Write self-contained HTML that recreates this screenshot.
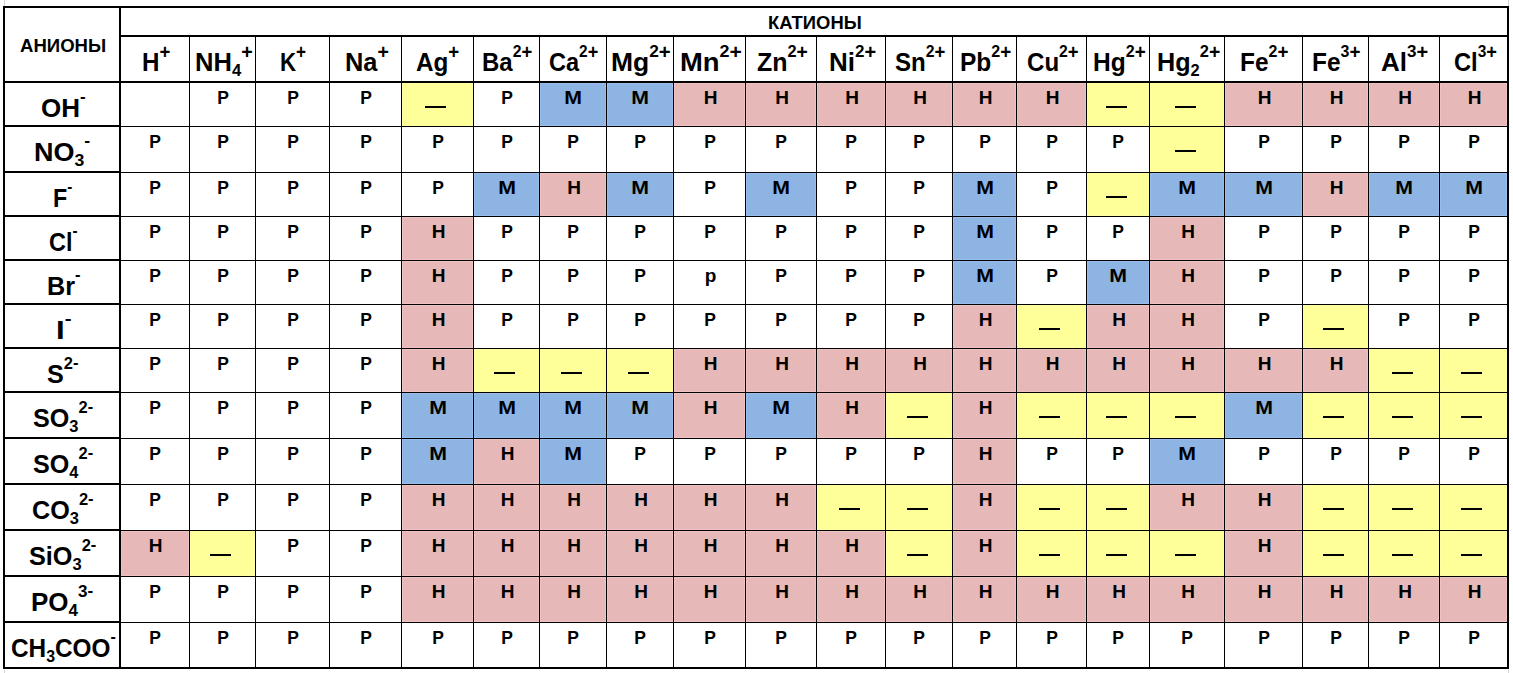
<!DOCTYPE html><html><head><meta charset="utf-8"><style>
html,body{margin:0;padding:0;background:#fff;}
body{width:1513px;height:673px;position:relative;overflow:hidden;font-family:"Liberation Sans",sans-serif;font-weight:bold;color:#000;}
.f,.l,.t,.d{position:absolute;}
.l{background:#000;}
.t{white-space:nowrap;line-height:1;transform-origin:0 0;}
.c{font-size:19px;}
.h{font-size:26px;}
.d{height:2px;width:21px;background:#000;}
sup,sub{position:relative;vertical-align:baseline;line-height:0;font-size:17px;}
sup{top:-14px;}
sub{top:5px;}
.p{font-size:20px;position:relative;top:2px;}
.m{position:relative;top:-1px;}

</style></head><body>
<div class="f" style="left:401px;top:82px;width:72px;height:44px;background:#FFFF99;"></div>
<div class="f" style="left:402px;top:83px;width:69px;height:41px;border:1px solid #FFFFA4;"></div>
<div class="f" style="left:539px;top:82px;width:67px;height:44px;background:#8DB4E2;"></div>
<div class="f" style="left:540px;top:83px;width:64px;height:41px;border:1px solid #97BEEC;"></div>
<div class="f" style="left:606px;top:82px;width:67px;height:44px;background:#8DB4E2;"></div>
<div class="f" style="left:607px;top:83px;width:64px;height:41px;border:1px solid #97BEEC;"></div>
<div class="f" style="left:673px;top:82px;width:72px;height:44px;background:#E6B8B7;"></div>
<div class="f" style="left:674px;top:83px;width:69px;height:41px;border:1px solid #F0C2C1;"></div>
<div class="f" style="left:745px;top:82px;width:71px;height:44px;background:#E6B8B7;"></div>
<div class="f" style="left:746px;top:83px;width:68px;height:41px;border:1px solid #F0C2C1;"></div>
<div class="f" style="left:816px;top:82px;width:69px;height:44px;background:#E6B8B7;"></div>
<div class="f" style="left:817px;top:83px;width:66px;height:41px;border:1px solid #F0C2C1;"></div>
<div class="f" style="left:885px;top:82px;width:67px;height:44px;background:#E6B8B7;"></div>
<div class="f" style="left:886px;top:83px;width:64px;height:41px;border:1px solid #F0C2C1;"></div>
<div class="f" style="left:952px;top:82px;width:64px;height:44px;background:#E6B8B7;"></div>
<div class="f" style="left:953px;top:83px;width:61px;height:41px;border:1px solid #F0C2C1;"></div>
<div class="f" style="left:1016px;top:82px;width:70px;height:44px;background:#E6B8B7;"></div>
<div class="f" style="left:1017px;top:83px;width:67px;height:41px;border:1px solid #F0C2C1;"></div>
<div class="f" style="left:1086px;top:82px;width:63px;height:44px;background:#FFFF99;"></div>
<div class="f" style="left:1087px;top:83px;width:60px;height:41px;border:1px solid #FFFFA4;"></div>
<div class="f" style="left:1149px;top:82px;width:75px;height:44px;background:#FFFF99;"></div>
<div class="f" style="left:1150px;top:83px;width:72px;height:41px;border:1px solid #FFFFA4;"></div>
<div class="f" style="left:1224px;top:82px;width:78px;height:44px;background:#E6B8B7;"></div>
<div class="f" style="left:1225px;top:83px;width:75px;height:41px;border:1px solid #F0C2C1;"></div>
<div class="f" style="left:1302px;top:82px;width:66px;height:44px;background:#E6B8B7;"></div>
<div class="f" style="left:1303px;top:83px;width:63px;height:41px;border:1px solid #F0C2C1;"></div>
<div class="f" style="left:1368px;top:82px;width:71px;height:44px;background:#E6B8B7;"></div>
<div class="f" style="left:1369px;top:83px;width:68px;height:41px;border:1px solid #F0C2C1;"></div>
<div class="f" style="left:1439px;top:82px;width:68px;height:44px;background:#E6B8B7;"></div>
<div class="f" style="left:1440px;top:83px;width:65px;height:41px;border:1px solid #F0C2C1;"></div>
<div class="f" style="left:1149px;top:126px;width:75px;height:46px;background:#FFFF99;"></div>
<div class="f" style="left:1150px;top:127px;width:72px;height:43px;border:1px solid #FFFFA4;"></div>
<div class="f" style="left:473px;top:172px;width:66px;height:44px;background:#8DB4E2;"></div>
<div class="f" style="left:474px;top:173px;width:63px;height:41px;border:1px solid #97BEEC;"></div>
<div class="f" style="left:539px;top:172px;width:67px;height:44px;background:#E6B8B7;"></div>
<div class="f" style="left:540px;top:173px;width:64px;height:41px;border:1px solid #F0C2C1;"></div>
<div class="f" style="left:606px;top:172px;width:67px;height:44px;background:#8DB4E2;"></div>
<div class="f" style="left:607px;top:173px;width:64px;height:41px;border:1px solid #97BEEC;"></div>
<div class="f" style="left:745px;top:172px;width:71px;height:44px;background:#8DB4E2;"></div>
<div class="f" style="left:746px;top:173px;width:68px;height:41px;border:1px solid #97BEEC;"></div>
<div class="f" style="left:952px;top:172px;width:64px;height:44px;background:#8DB4E2;"></div>
<div class="f" style="left:953px;top:173px;width:61px;height:41px;border:1px solid #97BEEC;"></div>
<div class="f" style="left:1086px;top:172px;width:63px;height:44px;background:#FFFF99;"></div>
<div class="f" style="left:1087px;top:173px;width:60px;height:41px;border:1px solid #FFFFA4;"></div>
<div class="f" style="left:1149px;top:172px;width:75px;height:44px;background:#8DB4E2;"></div>
<div class="f" style="left:1150px;top:173px;width:72px;height:41px;border:1px solid #97BEEC;"></div>
<div class="f" style="left:1224px;top:172px;width:78px;height:44px;background:#8DB4E2;"></div>
<div class="f" style="left:1225px;top:173px;width:75px;height:41px;border:1px solid #97BEEC;"></div>
<div class="f" style="left:1302px;top:172px;width:66px;height:44px;background:#E6B8B7;"></div>
<div class="f" style="left:1303px;top:173px;width:63px;height:41px;border:1px solid #F0C2C1;"></div>
<div class="f" style="left:1368px;top:172px;width:71px;height:44px;background:#8DB4E2;"></div>
<div class="f" style="left:1369px;top:173px;width:68px;height:41px;border:1px solid #97BEEC;"></div>
<div class="f" style="left:1439px;top:172px;width:68px;height:44px;background:#8DB4E2;"></div>
<div class="f" style="left:1440px;top:173px;width:65px;height:41px;border:1px solid #97BEEC;"></div>
<div class="f" style="left:401px;top:216px;width:72px;height:44px;background:#E6B8B7;"></div>
<div class="f" style="left:402px;top:217px;width:69px;height:41px;border:1px solid #F0C2C1;"></div>
<div class="f" style="left:952px;top:216px;width:64px;height:44px;background:#8DB4E2;"></div>
<div class="f" style="left:953px;top:217px;width:61px;height:41px;border:1px solid #97BEEC;"></div>
<div class="f" style="left:1149px;top:216px;width:75px;height:44px;background:#E6B8B7;"></div>
<div class="f" style="left:1150px;top:217px;width:72px;height:41px;border:1px solid #F0C2C1;"></div>
<div class="f" style="left:401px;top:260px;width:72px;height:44px;background:#E6B8B7;"></div>
<div class="f" style="left:402px;top:261px;width:69px;height:41px;border:1px solid #F0C2C1;"></div>
<div class="f" style="left:952px;top:260px;width:64px;height:44px;background:#8DB4E2;"></div>
<div class="f" style="left:953px;top:261px;width:61px;height:41px;border:1px solid #97BEEC;"></div>
<div class="f" style="left:1086px;top:260px;width:63px;height:44px;background:#8DB4E2;"></div>
<div class="f" style="left:1087px;top:261px;width:60px;height:41px;border:1px solid #97BEEC;"></div>
<div class="f" style="left:1149px;top:260px;width:75px;height:44px;background:#E6B8B7;"></div>
<div class="f" style="left:1150px;top:261px;width:72px;height:41px;border:1px solid #F0C2C1;"></div>
<div class="f" style="left:401px;top:304px;width:72px;height:44px;background:#E6B8B7;"></div>
<div class="f" style="left:402px;top:305px;width:69px;height:41px;border:1px solid #F0C2C1;"></div>
<div class="f" style="left:952px;top:304px;width:64px;height:44px;background:#E6B8B7;"></div>
<div class="f" style="left:953px;top:305px;width:61px;height:41px;border:1px solid #F0C2C1;"></div>
<div class="f" style="left:1016px;top:304px;width:70px;height:44px;background:#FFFF99;"></div>
<div class="f" style="left:1017px;top:305px;width:67px;height:41px;border:1px solid #FFFFA4;"></div>
<div class="f" style="left:1086px;top:304px;width:63px;height:44px;background:#E6B8B7;"></div>
<div class="f" style="left:1087px;top:305px;width:60px;height:41px;border:1px solid #F0C2C1;"></div>
<div class="f" style="left:1149px;top:304px;width:75px;height:44px;background:#E6B8B7;"></div>
<div class="f" style="left:1150px;top:305px;width:72px;height:41px;border:1px solid #F0C2C1;"></div>
<div class="f" style="left:1302px;top:304px;width:66px;height:44px;background:#FFFF99;"></div>
<div class="f" style="left:1303px;top:305px;width:63px;height:41px;border:1px solid #FFFFA4;"></div>
<div class="f" style="left:401px;top:348px;width:72px;height:44px;background:#E6B8B7;"></div>
<div class="f" style="left:402px;top:349px;width:69px;height:41px;border:1px solid #F0C2C1;"></div>
<div class="f" style="left:473px;top:348px;width:66px;height:44px;background:#FFFF99;"></div>
<div class="f" style="left:474px;top:349px;width:63px;height:41px;border:1px solid #FFFFA4;"></div>
<div class="f" style="left:539px;top:348px;width:67px;height:44px;background:#FFFF99;"></div>
<div class="f" style="left:540px;top:349px;width:64px;height:41px;border:1px solid #FFFFA4;"></div>
<div class="f" style="left:606px;top:348px;width:67px;height:44px;background:#FFFF99;"></div>
<div class="f" style="left:607px;top:349px;width:64px;height:41px;border:1px solid #FFFFA4;"></div>
<div class="f" style="left:673px;top:348px;width:72px;height:44px;background:#E6B8B7;"></div>
<div class="f" style="left:674px;top:349px;width:69px;height:41px;border:1px solid #F0C2C1;"></div>
<div class="f" style="left:745px;top:348px;width:71px;height:44px;background:#E6B8B7;"></div>
<div class="f" style="left:746px;top:349px;width:68px;height:41px;border:1px solid #F0C2C1;"></div>
<div class="f" style="left:816px;top:348px;width:69px;height:44px;background:#E6B8B7;"></div>
<div class="f" style="left:817px;top:349px;width:66px;height:41px;border:1px solid #F0C2C1;"></div>
<div class="f" style="left:885px;top:348px;width:67px;height:44px;background:#E6B8B7;"></div>
<div class="f" style="left:886px;top:349px;width:64px;height:41px;border:1px solid #F0C2C1;"></div>
<div class="f" style="left:952px;top:348px;width:64px;height:44px;background:#E6B8B7;"></div>
<div class="f" style="left:953px;top:349px;width:61px;height:41px;border:1px solid #F0C2C1;"></div>
<div class="f" style="left:1016px;top:348px;width:70px;height:44px;background:#E6B8B7;"></div>
<div class="f" style="left:1017px;top:349px;width:67px;height:41px;border:1px solid #F0C2C1;"></div>
<div class="f" style="left:1086px;top:348px;width:63px;height:44px;background:#E6B8B7;"></div>
<div class="f" style="left:1087px;top:349px;width:60px;height:41px;border:1px solid #F0C2C1;"></div>
<div class="f" style="left:1149px;top:348px;width:75px;height:44px;background:#E6B8B7;"></div>
<div class="f" style="left:1150px;top:349px;width:72px;height:41px;border:1px solid #F0C2C1;"></div>
<div class="f" style="left:1224px;top:348px;width:78px;height:44px;background:#E6B8B7;"></div>
<div class="f" style="left:1225px;top:349px;width:75px;height:41px;border:1px solid #F0C2C1;"></div>
<div class="f" style="left:1302px;top:348px;width:66px;height:44px;background:#E6B8B7;"></div>
<div class="f" style="left:1303px;top:349px;width:63px;height:41px;border:1px solid #F0C2C1;"></div>
<div class="f" style="left:1368px;top:348px;width:71px;height:44px;background:#FFFF99;"></div>
<div class="f" style="left:1369px;top:349px;width:68px;height:41px;border:1px solid #FFFFA4;"></div>
<div class="f" style="left:1439px;top:348px;width:68px;height:44px;background:#FFFF99;"></div>
<div class="f" style="left:1440px;top:349px;width:65px;height:41px;border:1px solid #FFFFA4;"></div>
<div class="f" style="left:401px;top:392px;width:72px;height:46px;background:#8DB4E2;"></div>
<div class="f" style="left:402px;top:393px;width:69px;height:43px;border:1px solid #97BEEC;"></div>
<div class="f" style="left:473px;top:392px;width:66px;height:46px;background:#8DB4E2;"></div>
<div class="f" style="left:474px;top:393px;width:63px;height:43px;border:1px solid #97BEEC;"></div>
<div class="f" style="left:539px;top:392px;width:67px;height:46px;background:#8DB4E2;"></div>
<div class="f" style="left:540px;top:393px;width:64px;height:43px;border:1px solid #97BEEC;"></div>
<div class="f" style="left:606px;top:392px;width:67px;height:46px;background:#8DB4E2;"></div>
<div class="f" style="left:607px;top:393px;width:64px;height:43px;border:1px solid #97BEEC;"></div>
<div class="f" style="left:673px;top:392px;width:72px;height:46px;background:#E6B8B7;"></div>
<div class="f" style="left:674px;top:393px;width:69px;height:43px;border:1px solid #F0C2C1;"></div>
<div class="f" style="left:745px;top:392px;width:71px;height:46px;background:#8DB4E2;"></div>
<div class="f" style="left:746px;top:393px;width:68px;height:43px;border:1px solid #97BEEC;"></div>
<div class="f" style="left:816px;top:392px;width:69px;height:46px;background:#E6B8B7;"></div>
<div class="f" style="left:817px;top:393px;width:66px;height:43px;border:1px solid #F0C2C1;"></div>
<div class="f" style="left:885px;top:392px;width:67px;height:46px;background:#FFFF99;"></div>
<div class="f" style="left:886px;top:393px;width:64px;height:43px;border:1px solid #FFFFA4;"></div>
<div class="f" style="left:952px;top:392px;width:64px;height:46px;background:#E6B8B7;"></div>
<div class="f" style="left:953px;top:393px;width:61px;height:43px;border:1px solid #F0C2C1;"></div>
<div class="f" style="left:1016px;top:392px;width:70px;height:46px;background:#FFFF99;"></div>
<div class="f" style="left:1017px;top:393px;width:67px;height:43px;border:1px solid #FFFFA4;"></div>
<div class="f" style="left:1086px;top:392px;width:63px;height:46px;background:#FFFF99;"></div>
<div class="f" style="left:1087px;top:393px;width:60px;height:43px;border:1px solid #FFFFA4;"></div>
<div class="f" style="left:1149px;top:392px;width:75px;height:46px;background:#FFFF99;"></div>
<div class="f" style="left:1150px;top:393px;width:72px;height:43px;border:1px solid #FFFFA4;"></div>
<div class="f" style="left:1224px;top:392px;width:78px;height:46px;background:#8DB4E2;"></div>
<div class="f" style="left:1225px;top:393px;width:75px;height:43px;border:1px solid #97BEEC;"></div>
<div class="f" style="left:1302px;top:392px;width:66px;height:46px;background:#FFFF99;"></div>
<div class="f" style="left:1303px;top:393px;width:63px;height:43px;border:1px solid #FFFFA4;"></div>
<div class="f" style="left:1368px;top:392px;width:71px;height:46px;background:#FFFF99;"></div>
<div class="f" style="left:1369px;top:393px;width:68px;height:43px;border:1px solid #FFFFA4;"></div>
<div class="f" style="left:1439px;top:392px;width:68px;height:46px;background:#FFFF99;"></div>
<div class="f" style="left:1440px;top:393px;width:65px;height:43px;border:1px solid #FFFFA4;"></div>
<div class="f" style="left:401px;top:438px;width:72px;height:46px;background:#8DB4E2;"></div>
<div class="f" style="left:402px;top:439px;width:69px;height:43px;border:1px solid #97BEEC;"></div>
<div class="f" style="left:473px;top:438px;width:66px;height:46px;background:#E6B8B7;"></div>
<div class="f" style="left:474px;top:439px;width:63px;height:43px;border:1px solid #F0C2C1;"></div>
<div class="f" style="left:539px;top:438px;width:67px;height:46px;background:#8DB4E2;"></div>
<div class="f" style="left:540px;top:439px;width:64px;height:43px;border:1px solid #97BEEC;"></div>
<div class="f" style="left:952px;top:438px;width:64px;height:46px;background:#E6B8B7;"></div>
<div class="f" style="left:953px;top:439px;width:61px;height:43px;border:1px solid #F0C2C1;"></div>
<div class="f" style="left:1149px;top:438px;width:75px;height:46px;background:#8DB4E2;"></div>
<div class="f" style="left:1150px;top:439px;width:72px;height:43px;border:1px solid #97BEEC;"></div>
<div class="f" style="left:401px;top:484px;width:72px;height:46px;background:#E6B8B7;"></div>
<div class="f" style="left:402px;top:485px;width:69px;height:43px;border:1px solid #F0C2C1;"></div>
<div class="f" style="left:473px;top:484px;width:66px;height:46px;background:#E6B8B7;"></div>
<div class="f" style="left:474px;top:485px;width:63px;height:43px;border:1px solid #F0C2C1;"></div>
<div class="f" style="left:539px;top:484px;width:67px;height:46px;background:#E6B8B7;"></div>
<div class="f" style="left:540px;top:485px;width:64px;height:43px;border:1px solid #F0C2C1;"></div>
<div class="f" style="left:606px;top:484px;width:67px;height:46px;background:#E6B8B7;"></div>
<div class="f" style="left:607px;top:485px;width:64px;height:43px;border:1px solid #F0C2C1;"></div>
<div class="f" style="left:673px;top:484px;width:72px;height:46px;background:#E6B8B7;"></div>
<div class="f" style="left:674px;top:485px;width:69px;height:43px;border:1px solid #F0C2C1;"></div>
<div class="f" style="left:745px;top:484px;width:71px;height:46px;background:#E6B8B7;"></div>
<div class="f" style="left:746px;top:485px;width:68px;height:43px;border:1px solid #F0C2C1;"></div>
<div class="f" style="left:816px;top:484px;width:69px;height:46px;background:#FFFF99;"></div>
<div class="f" style="left:817px;top:485px;width:66px;height:43px;border:1px solid #FFFFA4;"></div>
<div class="f" style="left:885px;top:484px;width:67px;height:46px;background:#FFFF99;"></div>
<div class="f" style="left:886px;top:485px;width:64px;height:43px;border:1px solid #FFFFA4;"></div>
<div class="f" style="left:952px;top:484px;width:64px;height:46px;background:#E6B8B7;"></div>
<div class="f" style="left:953px;top:485px;width:61px;height:43px;border:1px solid #F0C2C1;"></div>
<div class="f" style="left:1016px;top:484px;width:70px;height:46px;background:#FFFF99;"></div>
<div class="f" style="left:1017px;top:485px;width:67px;height:43px;border:1px solid #FFFFA4;"></div>
<div class="f" style="left:1086px;top:484px;width:63px;height:46px;background:#FFFF99;"></div>
<div class="f" style="left:1087px;top:485px;width:60px;height:43px;border:1px solid #FFFFA4;"></div>
<div class="f" style="left:1149px;top:484px;width:75px;height:46px;background:#E6B8B7;"></div>
<div class="f" style="left:1150px;top:485px;width:72px;height:43px;border:1px solid #F0C2C1;"></div>
<div class="f" style="left:1224px;top:484px;width:78px;height:46px;background:#E6B8B7;"></div>
<div class="f" style="left:1225px;top:485px;width:75px;height:43px;border:1px solid #F0C2C1;"></div>
<div class="f" style="left:1302px;top:484px;width:66px;height:46px;background:#FFFF99;"></div>
<div class="f" style="left:1303px;top:485px;width:63px;height:43px;border:1px solid #FFFFA4;"></div>
<div class="f" style="left:1368px;top:484px;width:71px;height:46px;background:#FFFF99;"></div>
<div class="f" style="left:1369px;top:485px;width:68px;height:43px;border:1px solid #FFFFA4;"></div>
<div class="f" style="left:1439px;top:484px;width:68px;height:46px;background:#FFFF99;"></div>
<div class="f" style="left:1440px;top:485px;width:65px;height:43px;border:1px solid #FFFFA4;"></div>
<div class="f" style="left:119px;top:530px;width:70px;height:46px;background:#E6B8B7;"></div>
<div class="f" style="left:121px;top:531px;width:66px;height:43px;border:1px solid #F0C2C1;"></div>
<div class="f" style="left:189px;top:530px;width:66px;height:46px;background:#FFFF99;"></div>
<div class="f" style="left:190px;top:531px;width:63px;height:43px;border:1px solid #FFFFA4;"></div>
<div class="f" style="left:401px;top:530px;width:72px;height:46px;background:#E6B8B7;"></div>
<div class="f" style="left:402px;top:531px;width:69px;height:43px;border:1px solid #F0C2C1;"></div>
<div class="f" style="left:473px;top:530px;width:66px;height:46px;background:#E6B8B7;"></div>
<div class="f" style="left:474px;top:531px;width:63px;height:43px;border:1px solid #F0C2C1;"></div>
<div class="f" style="left:539px;top:530px;width:67px;height:46px;background:#E6B8B7;"></div>
<div class="f" style="left:540px;top:531px;width:64px;height:43px;border:1px solid #F0C2C1;"></div>
<div class="f" style="left:606px;top:530px;width:67px;height:46px;background:#E6B8B7;"></div>
<div class="f" style="left:607px;top:531px;width:64px;height:43px;border:1px solid #F0C2C1;"></div>
<div class="f" style="left:673px;top:530px;width:72px;height:46px;background:#E6B8B7;"></div>
<div class="f" style="left:674px;top:531px;width:69px;height:43px;border:1px solid #F0C2C1;"></div>
<div class="f" style="left:745px;top:530px;width:71px;height:46px;background:#E6B8B7;"></div>
<div class="f" style="left:746px;top:531px;width:68px;height:43px;border:1px solid #F0C2C1;"></div>
<div class="f" style="left:816px;top:530px;width:69px;height:46px;background:#E6B8B7;"></div>
<div class="f" style="left:817px;top:531px;width:66px;height:43px;border:1px solid #F0C2C1;"></div>
<div class="f" style="left:885px;top:530px;width:67px;height:46px;background:#FFFF99;"></div>
<div class="f" style="left:886px;top:531px;width:64px;height:43px;border:1px solid #FFFFA4;"></div>
<div class="f" style="left:952px;top:530px;width:64px;height:46px;background:#E6B8B7;"></div>
<div class="f" style="left:953px;top:531px;width:61px;height:43px;border:1px solid #F0C2C1;"></div>
<div class="f" style="left:1016px;top:530px;width:70px;height:46px;background:#FFFF99;"></div>
<div class="f" style="left:1017px;top:531px;width:67px;height:43px;border:1px solid #FFFFA4;"></div>
<div class="f" style="left:1086px;top:530px;width:63px;height:46px;background:#FFFF99;"></div>
<div class="f" style="left:1087px;top:531px;width:60px;height:43px;border:1px solid #FFFFA4;"></div>
<div class="f" style="left:1149px;top:530px;width:75px;height:46px;background:#FFFF99;"></div>
<div class="f" style="left:1150px;top:531px;width:72px;height:43px;border:1px solid #FFFFA4;"></div>
<div class="f" style="left:1224px;top:530px;width:78px;height:46px;background:#E6B8B7;"></div>
<div class="f" style="left:1225px;top:531px;width:75px;height:43px;border:1px solid #F0C2C1;"></div>
<div class="f" style="left:1302px;top:530px;width:66px;height:46px;background:#FFFF99;"></div>
<div class="f" style="left:1303px;top:531px;width:63px;height:43px;border:1px solid #FFFFA4;"></div>
<div class="f" style="left:1368px;top:530px;width:71px;height:46px;background:#FFFF99;"></div>
<div class="f" style="left:1369px;top:531px;width:68px;height:43px;border:1px solid #FFFFA4;"></div>
<div class="f" style="left:1439px;top:530px;width:68px;height:46px;background:#FFFF99;"></div>
<div class="f" style="left:1440px;top:531px;width:65px;height:43px;border:1px solid #FFFFA4;"></div>
<div class="f" style="left:401px;top:576px;width:72px;height:46px;background:#E6B8B7;"></div>
<div class="f" style="left:402px;top:577px;width:69px;height:43px;border:1px solid #F0C2C1;"></div>
<div class="f" style="left:473px;top:576px;width:66px;height:46px;background:#E6B8B7;"></div>
<div class="f" style="left:474px;top:577px;width:63px;height:43px;border:1px solid #F0C2C1;"></div>
<div class="f" style="left:539px;top:576px;width:67px;height:46px;background:#E6B8B7;"></div>
<div class="f" style="left:540px;top:577px;width:64px;height:43px;border:1px solid #F0C2C1;"></div>
<div class="f" style="left:606px;top:576px;width:67px;height:46px;background:#E6B8B7;"></div>
<div class="f" style="left:607px;top:577px;width:64px;height:43px;border:1px solid #F0C2C1;"></div>
<div class="f" style="left:673px;top:576px;width:72px;height:46px;background:#E6B8B7;"></div>
<div class="f" style="left:674px;top:577px;width:69px;height:43px;border:1px solid #F0C2C1;"></div>
<div class="f" style="left:745px;top:576px;width:71px;height:46px;background:#E6B8B7;"></div>
<div class="f" style="left:746px;top:577px;width:68px;height:43px;border:1px solid #F0C2C1;"></div>
<div class="f" style="left:816px;top:576px;width:69px;height:46px;background:#E6B8B7;"></div>
<div class="f" style="left:817px;top:577px;width:66px;height:43px;border:1px solid #F0C2C1;"></div>
<div class="f" style="left:885px;top:576px;width:67px;height:46px;background:#E6B8B7;"></div>
<div class="f" style="left:886px;top:577px;width:64px;height:43px;border:1px solid #F0C2C1;"></div>
<div class="f" style="left:952px;top:576px;width:64px;height:46px;background:#E6B8B7;"></div>
<div class="f" style="left:953px;top:577px;width:61px;height:43px;border:1px solid #F0C2C1;"></div>
<div class="f" style="left:1016px;top:576px;width:70px;height:46px;background:#E6B8B7;"></div>
<div class="f" style="left:1017px;top:577px;width:67px;height:43px;border:1px solid #F0C2C1;"></div>
<div class="f" style="left:1086px;top:576px;width:63px;height:46px;background:#E6B8B7;"></div>
<div class="f" style="left:1087px;top:577px;width:60px;height:43px;border:1px solid #F0C2C1;"></div>
<div class="f" style="left:1149px;top:576px;width:75px;height:46px;background:#E6B8B7;"></div>
<div class="f" style="left:1150px;top:577px;width:72px;height:43px;border:1px solid #F0C2C1;"></div>
<div class="f" style="left:1224px;top:576px;width:78px;height:46px;background:#E6B8B7;"></div>
<div class="f" style="left:1225px;top:577px;width:75px;height:43px;border:1px solid #F0C2C1;"></div>
<div class="f" style="left:1302px;top:576px;width:66px;height:46px;background:#E6B8B7;"></div>
<div class="f" style="left:1303px;top:577px;width:63px;height:43px;border:1px solid #F0C2C1;"></div>
<div class="f" style="left:1368px;top:576px;width:71px;height:46px;background:#E6B8B7;"></div>
<div class="f" style="left:1369px;top:577px;width:68px;height:43px;border:1px solid #F0C2C1;"></div>
<div class="f" style="left:1439px;top:576px;width:68px;height:46px;background:#E6B8B7;"></div>
<div class="f" style="left:1440px;top:577px;width:65px;height:43px;border:1px solid #F0C2C1;"></div>
<div class="f" style="left:4px;top:0px;width:1px;height:6px;background:#d4d4d4;"></div>
<div class="f" style="left:1508px;top:0px;width:1px;height:6px;background:#d4d4d4;"></div>
<div class="f" style="left:4px;top:670px;width:1px;height:3px;background:#d4d4d4;"></div>
<div class="f" style="left:1508px;top:670px;width:1px;height:3px;background:#d4d4d4;"></div>
<div class="l" style="left:3px;top:6px;width:1506px;height:2px;"></div>
<div class="l" style="left:3px;top:667px;width:1506px;height:2px;"></div>
<div class="l" style="left:3px;top:6px;width:2px;height:663px;"></div>
<div class="l" style="left:1507px;top:6px;width:2px;height:663px;"></div>
<div class="l" style="left:119px;top:6px;width:2px;height:663px;"></div>
<div class="l" style="left:119px;top:35px;width:1390px;height:2px;"></div>
<div class="l" style="left:3px;top:81px;width:1506px;height:2px;"></div>
<div class="l" style="left:3px;top:125px;width:118px;height:2px;"></div>
<div class="l" style="left:119px;top:126px;width:1390px;height:1px;"></div>
<div class="l" style="left:3px;top:171px;width:118px;height:2px;"></div>
<div class="l" style="left:119px;top:172px;width:1390px;height:1px;"></div>
<div class="l" style="left:3px;top:215px;width:118px;height:2px;"></div>
<div class="l" style="left:119px;top:216px;width:1390px;height:1px;"></div>
<div class="l" style="left:3px;top:259px;width:118px;height:2px;"></div>
<div class="l" style="left:119px;top:260px;width:1390px;height:1px;"></div>
<div class="l" style="left:3px;top:303px;width:118px;height:2px;"></div>
<div class="l" style="left:119px;top:304px;width:1390px;height:1px;"></div>
<div class="l" style="left:3px;top:347px;width:118px;height:2px;"></div>
<div class="l" style="left:119px;top:348px;width:1390px;height:1px;"></div>
<div class="l" style="left:3px;top:391px;width:118px;height:2px;"></div>
<div class="l" style="left:119px;top:392px;width:1390px;height:1px;"></div>
<div class="l" style="left:3px;top:437px;width:118px;height:2px;"></div>
<div class="l" style="left:119px;top:438px;width:1390px;height:1px;"></div>
<div class="l" style="left:3px;top:483px;width:118px;height:2px;"></div>
<div class="l" style="left:119px;top:484px;width:1390px;height:1px;"></div>
<div class="l" style="left:3px;top:529px;width:118px;height:2px;"></div>
<div class="l" style="left:119px;top:530px;width:1390px;height:1px;"></div>
<div class="l" style="left:3px;top:575px;width:118px;height:2px;"></div>
<div class="l" style="left:119px;top:576px;width:1390px;height:1px;"></div>
<div class="l" style="left:3px;top:621px;width:118px;height:2px;"></div>
<div class="l" style="left:119px;top:622px;width:1390px;height:1px;"></div>
<div class="l" style="left:189px;top:35px;width:1px;height:633px;"></div>
<div class="l" style="left:255px;top:35px;width:1px;height:633px;"></div>
<div class="l" style="left:329px;top:35px;width:1px;height:633px;"></div>
<div class="l" style="left:401px;top:35px;width:1px;height:633px;"></div>
<div class="l" style="left:473px;top:35px;width:1px;height:633px;"></div>
<div class="l" style="left:539px;top:35px;width:1px;height:633px;"></div>
<div class="l" style="left:606px;top:35px;width:1px;height:633px;"></div>
<div class="l" style="left:673px;top:35px;width:1px;height:633px;"></div>
<div class="l" style="left:745px;top:35px;width:1px;height:633px;"></div>
<div class="l" style="left:816px;top:35px;width:1px;height:633px;"></div>
<div class="l" style="left:885px;top:35px;width:1px;height:633px;"></div>
<div class="l" style="left:952px;top:35px;width:1px;height:633px;"></div>
<div class="l" style="left:1016px;top:35px;width:1px;height:633px;"></div>
<div class="l" style="left:1086px;top:35px;width:1px;height:633px;"></div>
<div class="l" style="left:1149px;top:35px;width:1px;height:633px;"></div>
<div class="l" style="left:1224px;top:35px;width:1px;height:633px;"></div>
<div class="l" style="left:1302px;top:35px;width:1px;height:633px;"></div>
<div class="l" style="left:1368px;top:35px;width:1px;height:633px;"></div>
<div class="l" style="left:1439px;top:35px;width:1px;height:633px;"></div>
<div class="t c" style="left:768.03px;top:13px;transform:scaleX(0.9684);">КАТИОНЫ</div>
<div class="t c" style="left:20.02px;top:36px;transform:scaleX(0.9767);">АНИОНЫ</div>
<div class="t h" style="left:142.14px;top:49px;transform:scaleX(0.9286);">H<sup><span class="p">+</span></sup></div>
<div class="t h" style="left:195.04px;top:49px;transform:scaleX(0.9821);">NH<sub>4</sub><sup><span class="p">+</span></sup></div>
<div class="t h" style="left:280.29px;top:49px;transform:scaleX(0.8571);">K<sup><span class="p">+</span></sup></div>
<div class="t h" style="left:345.05px;top:49px;transform:scaleX(0.9762);">Na<sup><span class="p">+</span></sup></div>
<div class="t h" style="left:416.07px;top:49px;transform:scaleX(0.9333);">Ag<sup><span class="p">+</span></sup></div>
<div class="t h" style="left:482.15px;top:49px;transform:scaleX(0.9231);">Ba<sup>2<span class="p">+</span></sup></div>
<div class="t h" style="left:549.09px;top:49px;transform:scaleX(0.9057);">Ca<sup>2<span class="p">+</span></sup></div>
<div class="t h" style="left:610.96px;top:49px;transform:scaleX(1.0179);">Mg<sup>2<span class="p">+</span></sup></div>
<div class="t h" style="left:679.89px;top:49px;transform:scaleX(1.0536);">Mn<sup>2<span class="p">+</span></sup></div>
<div class="t h" style="left:757.04px;top:49px;transform:scaleX(0.9608);">Zn<sup>2<span class="p">+</span></sup></div>
<div class="t h" style="left:829.00px;top:49px;transform:scaleX(1.0000);">Ni<sup>2<span class="p">+</span></sup></div>
<div class="t h" style="left:895.08px;top:49px;transform:scaleX(0.9245);">Sn<sup>2<span class="p">+</span></sup></div>
<div class="t h" style="left:960.12px;top:49px;transform:scaleX(0.9423);">Pb<sup>2<span class="p">+</span></sup></div>
<div class="t h" style="left:1027.07px;top:49px;transform:scaleX(0.9259);">Cu<sup>2<span class="p">+</span></sup></div>
<div class="t h" style="left:1093.11px;top:49px;transform:scaleX(0.9434);">Hg<sup>2<span class="p">+</span></sup></div>
<div class="t h" style="left:1157.06px;top:49px;transform:scaleX(0.9677);">Hg<sub>2</sub><sup>2<span class="p">+</span></sup></div>
<div class="t h" style="left:1240.12px;top:49px;transform:scaleX(0.9388);">Fe<sup>2<span class="p">+</span></sup></div>
<div class="t h" style="left:1312.12px;top:49px;transform:scaleX(0.9388);">Fe<sup>3<span class="p">+</span></sup></div>
<div class="t h" style="left:1381.00px;top:49px;transform:scaleX(1.0000);">Al<sup>3<span class="p">+</span></sup></div>
<div class="t h" style="left:1454.09px;top:49px;transform:scaleX(0.9111);">Cl<sup>3<span class="p">+</span></sup></div>
<div class="t h" style="left:41.00px;top:95px;transform:scaleX(1.0000);">OH<sup><span class="m">-</span></sup></div>
<div class="t h" style="left:33.92px;top:139px;transform:scaleX(1.0385);">NO<sub>3</sub><sup><span class="m">-</span></sup></div>
<div class="t h" style="left:53.21px;top:185px;transform:scaleX(0.8947);">F<sup><span class="m">-</span></sup></div>
<div class="t h" style="left:49.10px;top:229px;transform:scaleX(0.9000);">Cl<sup><span class="m">-</span></sup></div>
<div class="t h" style="left:47.06px;top:273px;transform:scaleX(0.9688);">Br<sup><span class="m">-</span></sup></div>
<div class="t h" style="left:55.60px;top:317px;transform:scaleX(1.2000);">I<sup><span class="m">-</span></sup></div>
<div class="t h" style="left:47.03px;top:361px;transform:scaleX(0.9677);">S<sup>2<span class="m">-</span></sup></div>
<div class="t h" style="left:33.03px;top:405px;transform:scaleX(0.9672);">SO<sub>3</sub><sup>2<span class="m">-</span></sup></div>
<div class="t h" style="left:33.03px;top:451px;transform:scaleX(0.9672);">SO<sub>4</sub><sup>2<span class="m">-</span></sup></div>
<div class="t h" style="left:32.03px;top:497px;transform:scaleX(0.9677);">CO<sub>3</sub><sup>2<span class="m">-</span></sup></div>
<div class="t h" style="left:29.03px;top:543px;transform:scaleX(0.9706);">SiO<sub>3</sub><sup>2<span class="m">-</span></sup></div>
<div class="t h" style="left:31.00px;top:589px;transform:scaleX(1.0000);">PO<sub>4</sub><sup>3<span class="m">-</span></sup></div>
<div class="t h" style="left:11.06px;top:635px;transform:scaleX(0.9364);">CH<sub>3</sub>COO<sup><span class="m">-</span></sup></div>
<div class="t c" style="left:222.5px;top:88px;transform:translateX(-50%) scaleX(0.92);transform-origin:50% 0;">Р</div>
<div class="t c" style="left:292.5px;top:88px;transform:translateX(-50%) scaleX(0.92);transform-origin:50% 0;">Р</div>
<div class="t c" style="left:365.5px;top:88px;transform:translateX(-50%) scaleX(0.92);transform-origin:50% 0;">Р</div>
<div class="d" style="left:425px;top:106px;"></div>
<div class="t c" style="left:506.5px;top:88px;transform:translateX(-50%) scaleX(0.92);transform-origin:50% 0;">Р</div>
<div class="t c" style="left:573.0px;top:88px;transform:translateX(-50%) scaleX(1.12);transform-origin:50% 0;">М</div>
<div class="t c" style="left:640.0px;top:88px;transform:translateX(-50%) scaleX(1.12);transform-origin:50% 0;">М</div>
<div class="t c" style="left:710.5px;top:88px;transform:translateX(-50%) scaleX(1.0);transform-origin:50% 0;">Н</div>
<div class="t c" style="left:782.0px;top:88px;transform:translateX(-50%) scaleX(1.0);transform-origin:50% 0;">Н</div>
<div class="t c" style="left:852.0px;top:88px;transform:translateX(-50%) scaleX(1.0);transform-origin:50% 0;">Н</div>
<div class="t c" style="left:920.0px;top:88px;transform:translateX(-50%) scaleX(1.0);transform-origin:50% 0;">Н</div>
<div class="t c" style="left:985.5px;top:88px;transform:translateX(-50%) scaleX(1.0);transform-origin:50% 0;">Н</div>
<div class="t c" style="left:1052.5px;top:88px;transform:translateX(-50%) scaleX(1.0);transform-origin:50% 0;">Н</div>
<div class="d" style="left:1106px;top:106px;"></div>
<div class="d" style="left:1175px;top:106px;"></div>
<div class="t c" style="left:1264.5px;top:88px;transform:translateX(-50%) scaleX(1.0);transform-origin:50% 0;">Н</div>
<div class="t c" style="left:1336.5px;top:88px;transform:translateX(-50%) scaleX(1.0);transform-origin:50% 0;">Н</div>
<div class="t c" style="left:1405.0px;top:88px;transform:translateX(-50%) scaleX(1.0);transform-origin:50% 0;">Н</div>
<div class="t c" style="left:1474.5px;top:88px;transform:translateX(-50%) scaleX(1.0);transform-origin:50% 0;">Н</div>
<div class="t c" style="left:154.5px;top:132px;transform:translateX(-50%) scaleX(0.92);transform-origin:50% 0;">Р</div>
<div class="t c" style="left:222.5px;top:132px;transform:translateX(-50%) scaleX(0.92);transform-origin:50% 0;">Р</div>
<div class="t c" style="left:292.5px;top:132px;transform:translateX(-50%) scaleX(0.92);transform-origin:50% 0;">Р</div>
<div class="t c" style="left:365.5px;top:132px;transform:translateX(-50%) scaleX(0.92);transform-origin:50% 0;">Р</div>
<div class="t c" style="left:437.5px;top:132px;transform:translateX(-50%) scaleX(0.92);transform-origin:50% 0;">Р</div>
<div class="t c" style="left:506.5px;top:132px;transform:translateX(-50%) scaleX(0.92);transform-origin:50% 0;">Р</div>
<div class="t c" style="left:573.0px;top:132px;transform:translateX(-50%) scaleX(0.92);transform-origin:50% 0;">Р</div>
<div class="t c" style="left:640.0px;top:132px;transform:translateX(-50%) scaleX(0.92);transform-origin:50% 0;">Р</div>
<div class="t c" style="left:709.5px;top:132px;transform:translateX(-50%) scaleX(0.92);transform-origin:50% 0;">Р</div>
<div class="t c" style="left:781.0px;top:132px;transform:translateX(-50%) scaleX(0.92);transform-origin:50% 0;">Р</div>
<div class="t c" style="left:851.0px;top:132px;transform:translateX(-50%) scaleX(0.92);transform-origin:50% 0;">Р</div>
<div class="t c" style="left:919.0px;top:132px;transform:translateX(-50%) scaleX(0.92);transform-origin:50% 0;">Р</div>
<div class="t c" style="left:984.5px;top:132px;transform:translateX(-50%) scaleX(0.92);transform-origin:50% 0;">Р</div>
<div class="t c" style="left:1051.5px;top:132px;transform:translateX(-50%) scaleX(0.92);transform-origin:50% 0;">Р</div>
<div class="t c" style="left:1118.0px;top:132px;transform:translateX(-50%) scaleX(0.92);transform-origin:50% 0;">Р</div>
<div class="d" style="left:1175px;top:150px;"></div>
<div class="t c" style="left:1263.5px;top:132px;transform:translateX(-50%) scaleX(0.92);transform-origin:50% 0;">Р</div>
<div class="t c" style="left:1335.5px;top:132px;transform:translateX(-50%) scaleX(0.92);transform-origin:50% 0;">Р</div>
<div class="t c" style="left:1404.0px;top:132px;transform:translateX(-50%) scaleX(0.92);transform-origin:50% 0;">Р</div>
<div class="t c" style="left:1473.5px;top:132px;transform:translateX(-50%) scaleX(0.92);transform-origin:50% 0;">Р</div>
<div class="t c" style="left:154.5px;top:178px;transform:translateX(-50%) scaleX(0.92);transform-origin:50% 0;">Р</div>
<div class="t c" style="left:222.5px;top:178px;transform:translateX(-50%) scaleX(0.92);transform-origin:50% 0;">Р</div>
<div class="t c" style="left:292.5px;top:178px;transform:translateX(-50%) scaleX(0.92);transform-origin:50% 0;">Р</div>
<div class="t c" style="left:365.5px;top:178px;transform:translateX(-50%) scaleX(0.92);transform-origin:50% 0;">Р</div>
<div class="t c" style="left:437.5px;top:178px;transform:translateX(-50%) scaleX(0.92);transform-origin:50% 0;">Р</div>
<div class="t c" style="left:506.5px;top:178px;transform:translateX(-50%) scaleX(1.12);transform-origin:50% 0;">М</div>
<div class="t c" style="left:574.0px;top:178px;transform:translateX(-50%) scaleX(1.0);transform-origin:50% 0;">Н</div>
<div class="t c" style="left:640.0px;top:178px;transform:translateX(-50%) scaleX(1.12);transform-origin:50% 0;">М</div>
<div class="t c" style="left:709.5px;top:178px;transform:translateX(-50%) scaleX(0.92);transform-origin:50% 0;">Р</div>
<div class="t c" style="left:781.0px;top:178px;transform:translateX(-50%) scaleX(1.12);transform-origin:50% 0;">М</div>
<div class="t c" style="left:851.0px;top:178px;transform:translateX(-50%) scaleX(0.92);transform-origin:50% 0;">Р</div>
<div class="t c" style="left:919.0px;top:178px;transform:translateX(-50%) scaleX(0.92);transform-origin:50% 0;">Р</div>
<div class="t c" style="left:984.5px;top:178px;transform:translateX(-50%) scaleX(1.12);transform-origin:50% 0;">М</div>
<div class="t c" style="left:1051.5px;top:178px;transform:translateX(-50%) scaleX(0.92);transform-origin:50% 0;">Р</div>
<div class="d" style="left:1106px;top:196px;"></div>
<div class="t c" style="left:1187.0px;top:178px;transform:translateX(-50%) scaleX(1.12);transform-origin:50% 0;">М</div>
<div class="t c" style="left:1263.5px;top:178px;transform:translateX(-50%) scaleX(1.12);transform-origin:50% 0;">М</div>
<div class="t c" style="left:1336.5px;top:178px;transform:translateX(-50%) scaleX(1.0);transform-origin:50% 0;">Н</div>
<div class="t c" style="left:1404.0px;top:178px;transform:translateX(-50%) scaleX(1.12);transform-origin:50% 0;">М</div>
<div class="t c" style="left:1473.5px;top:178px;transform:translateX(-50%) scaleX(1.12);transform-origin:50% 0;">М</div>
<div class="t c" style="left:154.5px;top:222px;transform:translateX(-50%) scaleX(0.92);transform-origin:50% 0;">Р</div>
<div class="t c" style="left:222.5px;top:222px;transform:translateX(-50%) scaleX(0.92);transform-origin:50% 0;">Р</div>
<div class="t c" style="left:292.5px;top:222px;transform:translateX(-50%) scaleX(0.92);transform-origin:50% 0;">Р</div>
<div class="t c" style="left:365.5px;top:222px;transform:translateX(-50%) scaleX(0.92);transform-origin:50% 0;">Р</div>
<div class="t c" style="left:438.5px;top:222px;transform:translateX(-50%) scaleX(1.0);transform-origin:50% 0;">Н</div>
<div class="t c" style="left:506.5px;top:222px;transform:translateX(-50%) scaleX(0.92);transform-origin:50% 0;">Р</div>
<div class="t c" style="left:573.0px;top:222px;transform:translateX(-50%) scaleX(0.92);transform-origin:50% 0;">Р</div>
<div class="t c" style="left:640.0px;top:222px;transform:translateX(-50%) scaleX(0.92);transform-origin:50% 0;">Р</div>
<div class="t c" style="left:709.5px;top:222px;transform:translateX(-50%) scaleX(0.92);transform-origin:50% 0;">Р</div>
<div class="t c" style="left:781.0px;top:222px;transform:translateX(-50%) scaleX(0.92);transform-origin:50% 0;">Р</div>
<div class="t c" style="left:851.0px;top:222px;transform:translateX(-50%) scaleX(0.92);transform-origin:50% 0;">Р</div>
<div class="t c" style="left:919.0px;top:222px;transform:translateX(-50%) scaleX(0.92);transform-origin:50% 0;">Р</div>
<div class="t c" style="left:984.5px;top:222px;transform:translateX(-50%) scaleX(1.12);transform-origin:50% 0;">М</div>
<div class="t c" style="left:1051.5px;top:222px;transform:translateX(-50%) scaleX(0.92);transform-origin:50% 0;">Р</div>
<div class="t c" style="left:1118.0px;top:222px;transform:translateX(-50%) scaleX(0.92);transform-origin:50% 0;">Р</div>
<div class="t c" style="left:1188.0px;top:222px;transform:translateX(-50%) scaleX(1.0);transform-origin:50% 0;">Н</div>
<div class="t c" style="left:1263.5px;top:222px;transform:translateX(-50%) scaleX(0.92);transform-origin:50% 0;">Р</div>
<div class="t c" style="left:1335.5px;top:222px;transform:translateX(-50%) scaleX(0.92);transform-origin:50% 0;">Р</div>
<div class="t c" style="left:1404.0px;top:222px;transform:translateX(-50%) scaleX(0.92);transform-origin:50% 0;">Р</div>
<div class="t c" style="left:1473.5px;top:222px;transform:translateX(-50%) scaleX(0.92);transform-origin:50% 0;">Р</div>
<div class="t c" style="left:154.5px;top:266px;transform:translateX(-50%) scaleX(0.92);transform-origin:50% 0;">Р</div>
<div class="t c" style="left:222.5px;top:266px;transform:translateX(-50%) scaleX(0.92);transform-origin:50% 0;">Р</div>
<div class="t c" style="left:292.5px;top:266px;transform:translateX(-50%) scaleX(0.92);transform-origin:50% 0;">Р</div>
<div class="t c" style="left:365.5px;top:266px;transform:translateX(-50%) scaleX(0.92);transform-origin:50% 0;">Р</div>
<div class="t c" style="left:438.5px;top:266px;transform:translateX(-50%) scaleX(1.0);transform-origin:50% 0;">Н</div>
<div class="t c" style="left:506.5px;top:266px;transform:translateX(-50%) scaleX(0.92);transform-origin:50% 0;">Р</div>
<div class="t c" style="left:573.0px;top:266px;transform:translateX(-50%) scaleX(0.92);transform-origin:50% 0;">Р</div>
<div class="t c" style="left:640.0px;top:266px;transform:translateX(-50%) scaleX(0.92);transform-origin:50% 0;">Р</div>
<div class="t c" style="left:710.5px;top:266px;transform:translateX(-50%) scaleX(1.0);transform-origin:50% 0;">р</div>
<div class="t c" style="left:781.0px;top:266px;transform:translateX(-50%) scaleX(0.92);transform-origin:50% 0;">Р</div>
<div class="t c" style="left:851.0px;top:266px;transform:translateX(-50%) scaleX(0.92);transform-origin:50% 0;">Р</div>
<div class="t c" style="left:919.0px;top:266px;transform:translateX(-50%) scaleX(0.92);transform-origin:50% 0;">Р</div>
<div class="t c" style="left:984.5px;top:266px;transform:translateX(-50%) scaleX(1.12);transform-origin:50% 0;">М</div>
<div class="t c" style="left:1051.5px;top:266px;transform:translateX(-50%) scaleX(0.92);transform-origin:50% 0;">Р</div>
<div class="t c" style="left:1118.0px;top:266px;transform:translateX(-50%) scaleX(1.12);transform-origin:50% 0;">М</div>
<div class="t c" style="left:1188.0px;top:266px;transform:translateX(-50%) scaleX(1.0);transform-origin:50% 0;">Н</div>
<div class="t c" style="left:1263.5px;top:266px;transform:translateX(-50%) scaleX(0.92);transform-origin:50% 0;">Р</div>
<div class="t c" style="left:1335.5px;top:266px;transform:translateX(-50%) scaleX(0.92);transform-origin:50% 0;">Р</div>
<div class="t c" style="left:1404.0px;top:266px;transform:translateX(-50%) scaleX(0.92);transform-origin:50% 0;">Р</div>
<div class="t c" style="left:1473.5px;top:266px;transform:translateX(-50%) scaleX(0.92);transform-origin:50% 0;">Р</div>
<div class="t c" style="left:154.5px;top:310px;transform:translateX(-50%) scaleX(0.92);transform-origin:50% 0;">Р</div>
<div class="t c" style="left:222.5px;top:310px;transform:translateX(-50%) scaleX(0.92);transform-origin:50% 0;">Р</div>
<div class="t c" style="left:292.5px;top:310px;transform:translateX(-50%) scaleX(0.92);transform-origin:50% 0;">Р</div>
<div class="t c" style="left:365.5px;top:310px;transform:translateX(-50%) scaleX(0.92);transform-origin:50% 0;">Р</div>
<div class="t c" style="left:438.5px;top:310px;transform:translateX(-50%) scaleX(1.0);transform-origin:50% 0;">Н</div>
<div class="t c" style="left:506.5px;top:310px;transform:translateX(-50%) scaleX(0.92);transform-origin:50% 0;">Р</div>
<div class="t c" style="left:573.0px;top:310px;transform:translateX(-50%) scaleX(0.92);transform-origin:50% 0;">Р</div>
<div class="t c" style="left:640.0px;top:310px;transform:translateX(-50%) scaleX(0.92);transform-origin:50% 0;">Р</div>
<div class="t c" style="left:709.5px;top:310px;transform:translateX(-50%) scaleX(0.92);transform-origin:50% 0;">Р</div>
<div class="t c" style="left:781.0px;top:310px;transform:translateX(-50%) scaleX(0.92);transform-origin:50% 0;">Р</div>
<div class="t c" style="left:851.0px;top:310px;transform:translateX(-50%) scaleX(0.92);transform-origin:50% 0;">Р</div>
<div class="t c" style="left:919.0px;top:310px;transform:translateX(-50%) scaleX(0.92);transform-origin:50% 0;">Р</div>
<div class="t c" style="left:985.5px;top:310px;transform:translateX(-50%) scaleX(1.0);transform-origin:50% 0;">Н</div>
<div class="d" style="left:1039px;top:328px;"></div>
<div class="t c" style="left:1119.0px;top:310px;transform:translateX(-50%) scaleX(1.0);transform-origin:50% 0;">Н</div>
<div class="t c" style="left:1188.0px;top:310px;transform:translateX(-50%) scaleX(1.0);transform-origin:50% 0;">Н</div>
<div class="t c" style="left:1263.5px;top:310px;transform:translateX(-50%) scaleX(0.92);transform-origin:50% 0;">Р</div>
<div class="d" style="left:1323px;top:328px;"></div>
<div class="t c" style="left:1404.0px;top:310px;transform:translateX(-50%) scaleX(0.92);transform-origin:50% 0;">Р</div>
<div class="t c" style="left:1473.5px;top:310px;transform:translateX(-50%) scaleX(0.92);transform-origin:50% 0;">Р</div>
<div class="t c" style="left:154.5px;top:354px;transform:translateX(-50%) scaleX(0.92);transform-origin:50% 0;">Р</div>
<div class="t c" style="left:222.5px;top:354px;transform:translateX(-50%) scaleX(0.92);transform-origin:50% 0;">Р</div>
<div class="t c" style="left:292.5px;top:354px;transform:translateX(-50%) scaleX(0.92);transform-origin:50% 0;">Р</div>
<div class="t c" style="left:365.5px;top:354px;transform:translateX(-50%) scaleX(0.92);transform-origin:50% 0;">Р</div>
<div class="t c" style="left:438.5px;top:354px;transform:translateX(-50%) scaleX(1.0);transform-origin:50% 0;">Н</div>
<div class="d" style="left:494px;top:372px;"></div>
<div class="d" style="left:561px;top:372px;"></div>
<div class="d" style="left:628px;top:372px;"></div>
<div class="t c" style="left:710.5px;top:354px;transform:translateX(-50%) scaleX(1.0);transform-origin:50% 0;">Н</div>
<div class="t c" style="left:782.0px;top:354px;transform:translateX(-50%) scaleX(1.0);transform-origin:50% 0;">Н</div>
<div class="t c" style="left:852.0px;top:354px;transform:translateX(-50%) scaleX(1.0);transform-origin:50% 0;">Н</div>
<div class="t c" style="left:920.0px;top:354px;transform:translateX(-50%) scaleX(1.0);transform-origin:50% 0;">Н</div>
<div class="t c" style="left:985.5px;top:354px;transform:translateX(-50%) scaleX(1.0);transform-origin:50% 0;">Н</div>
<div class="t c" style="left:1052.5px;top:354px;transform:translateX(-50%) scaleX(1.0);transform-origin:50% 0;">Н</div>
<div class="t c" style="left:1119.0px;top:354px;transform:translateX(-50%) scaleX(1.0);transform-origin:50% 0;">Н</div>
<div class="t c" style="left:1188.0px;top:354px;transform:translateX(-50%) scaleX(1.0);transform-origin:50% 0;">Н</div>
<div class="t c" style="left:1264.5px;top:354px;transform:translateX(-50%) scaleX(1.0);transform-origin:50% 0;">Н</div>
<div class="t c" style="left:1336.5px;top:354px;transform:translateX(-50%) scaleX(1.0);transform-origin:50% 0;">Н</div>
<div class="d" style="left:1392px;top:372px;"></div>
<div class="d" style="left:1461px;top:372px;"></div>
<div class="t c" style="left:154.5px;top:398px;transform:translateX(-50%) scaleX(0.92);transform-origin:50% 0;">Р</div>
<div class="t c" style="left:222.5px;top:398px;transform:translateX(-50%) scaleX(0.92);transform-origin:50% 0;">Р</div>
<div class="t c" style="left:292.5px;top:398px;transform:translateX(-50%) scaleX(0.92);transform-origin:50% 0;">Р</div>
<div class="t c" style="left:365.5px;top:398px;transform:translateX(-50%) scaleX(0.92);transform-origin:50% 0;">Р</div>
<div class="t c" style="left:437.5px;top:398px;transform:translateX(-50%) scaleX(1.12);transform-origin:50% 0;">М</div>
<div class="t c" style="left:506.5px;top:398px;transform:translateX(-50%) scaleX(1.12);transform-origin:50% 0;">М</div>
<div class="t c" style="left:573.0px;top:398px;transform:translateX(-50%) scaleX(1.12);transform-origin:50% 0;">М</div>
<div class="t c" style="left:640.0px;top:398px;transform:translateX(-50%) scaleX(1.12);transform-origin:50% 0;">М</div>
<div class="t c" style="left:710.5px;top:398px;transform:translateX(-50%) scaleX(1.0);transform-origin:50% 0;">Н</div>
<div class="t c" style="left:781.0px;top:398px;transform:translateX(-50%) scaleX(1.12);transform-origin:50% 0;">М</div>
<div class="t c" style="left:852.0px;top:398px;transform:translateX(-50%) scaleX(1.0);transform-origin:50% 0;">Н</div>
<div class="d" style="left:907px;top:416px;"></div>
<div class="t c" style="left:985.5px;top:398px;transform:translateX(-50%) scaleX(1.0);transform-origin:50% 0;">Н</div>
<div class="d" style="left:1039px;top:416px;"></div>
<div class="d" style="left:1106px;top:416px;"></div>
<div class="d" style="left:1175px;top:416px;"></div>
<div class="t c" style="left:1263.5px;top:398px;transform:translateX(-50%) scaleX(1.12);transform-origin:50% 0;">М</div>
<div class="d" style="left:1323px;top:416px;"></div>
<div class="d" style="left:1392px;top:416px;"></div>
<div class="d" style="left:1461px;top:416px;"></div>
<div class="t c" style="left:154.5px;top:444px;transform:translateX(-50%) scaleX(0.92);transform-origin:50% 0;">Р</div>
<div class="t c" style="left:222.5px;top:444px;transform:translateX(-50%) scaleX(0.92);transform-origin:50% 0;">Р</div>
<div class="t c" style="left:292.5px;top:444px;transform:translateX(-50%) scaleX(0.92);transform-origin:50% 0;">Р</div>
<div class="t c" style="left:365.5px;top:444px;transform:translateX(-50%) scaleX(0.92);transform-origin:50% 0;">Р</div>
<div class="t c" style="left:437.5px;top:444px;transform:translateX(-50%) scaleX(1.12);transform-origin:50% 0;">М</div>
<div class="t c" style="left:507.5px;top:444px;transform:translateX(-50%) scaleX(1.0);transform-origin:50% 0;">Н</div>
<div class="t c" style="left:573.0px;top:444px;transform:translateX(-50%) scaleX(1.12);transform-origin:50% 0;">М</div>
<div class="t c" style="left:640.0px;top:444px;transform:translateX(-50%) scaleX(0.92);transform-origin:50% 0;">Р</div>
<div class="t c" style="left:709.5px;top:444px;transform:translateX(-50%) scaleX(0.92);transform-origin:50% 0;">Р</div>
<div class="t c" style="left:781.0px;top:444px;transform:translateX(-50%) scaleX(0.92);transform-origin:50% 0;">Р</div>
<div class="t c" style="left:851.0px;top:444px;transform:translateX(-50%) scaleX(0.92);transform-origin:50% 0;">Р</div>
<div class="t c" style="left:919.0px;top:444px;transform:translateX(-50%) scaleX(0.92);transform-origin:50% 0;">Р</div>
<div class="t c" style="left:985.5px;top:444px;transform:translateX(-50%) scaleX(1.0);transform-origin:50% 0;">Н</div>
<div class="t c" style="left:1051.5px;top:444px;transform:translateX(-50%) scaleX(0.92);transform-origin:50% 0;">Р</div>
<div class="t c" style="left:1118.0px;top:444px;transform:translateX(-50%) scaleX(0.92);transform-origin:50% 0;">Р</div>
<div class="t c" style="left:1187.0px;top:444px;transform:translateX(-50%) scaleX(1.12);transform-origin:50% 0;">М</div>
<div class="t c" style="left:1263.5px;top:444px;transform:translateX(-50%) scaleX(0.92);transform-origin:50% 0;">Р</div>
<div class="t c" style="left:1335.5px;top:444px;transform:translateX(-50%) scaleX(0.92);transform-origin:50% 0;">Р</div>
<div class="t c" style="left:1404.0px;top:444px;transform:translateX(-50%) scaleX(0.92);transform-origin:50% 0;">Р</div>
<div class="t c" style="left:1473.5px;top:444px;transform:translateX(-50%) scaleX(0.92);transform-origin:50% 0;">Р</div>
<div class="t c" style="left:154.5px;top:490px;transform:translateX(-50%) scaleX(0.92);transform-origin:50% 0;">Р</div>
<div class="t c" style="left:222.5px;top:490px;transform:translateX(-50%) scaleX(0.92);transform-origin:50% 0;">Р</div>
<div class="t c" style="left:292.5px;top:490px;transform:translateX(-50%) scaleX(0.92);transform-origin:50% 0;">Р</div>
<div class="t c" style="left:365.5px;top:490px;transform:translateX(-50%) scaleX(0.92);transform-origin:50% 0;">Р</div>
<div class="t c" style="left:438.5px;top:490px;transform:translateX(-50%) scaleX(1.0);transform-origin:50% 0;">Н</div>
<div class="t c" style="left:507.5px;top:490px;transform:translateX(-50%) scaleX(1.0);transform-origin:50% 0;">Н</div>
<div class="t c" style="left:574.0px;top:490px;transform:translateX(-50%) scaleX(1.0);transform-origin:50% 0;">Н</div>
<div class="t c" style="left:641.0px;top:490px;transform:translateX(-50%) scaleX(1.0);transform-origin:50% 0;">Н</div>
<div class="t c" style="left:710.5px;top:490px;transform:translateX(-50%) scaleX(1.0);transform-origin:50% 0;">Н</div>
<div class="t c" style="left:782.0px;top:490px;transform:translateX(-50%) scaleX(1.0);transform-origin:50% 0;">Н</div>
<div class="d" style="left:839px;top:508px;"></div>
<div class="d" style="left:907px;top:508px;"></div>
<div class="t c" style="left:985.5px;top:490px;transform:translateX(-50%) scaleX(1.0);transform-origin:50% 0;">Н</div>
<div class="d" style="left:1039px;top:508px;"></div>
<div class="d" style="left:1106px;top:508px;"></div>
<div class="t c" style="left:1188.0px;top:490px;transform:translateX(-50%) scaleX(1.0);transform-origin:50% 0;">Н</div>
<div class="t c" style="left:1264.5px;top:490px;transform:translateX(-50%) scaleX(1.0);transform-origin:50% 0;">Н</div>
<div class="d" style="left:1323px;top:508px;"></div>
<div class="d" style="left:1392px;top:508px;"></div>
<div class="d" style="left:1461px;top:508px;"></div>
<div class="t c" style="left:155.5px;top:536px;transform:translateX(-50%) scaleX(1.0);transform-origin:50% 0;">Н</div>
<div class="d" style="left:210px;top:554px;"></div>
<div class="t c" style="left:292.5px;top:536px;transform:translateX(-50%) scaleX(0.92);transform-origin:50% 0;">Р</div>
<div class="t c" style="left:365.5px;top:536px;transform:translateX(-50%) scaleX(0.92);transform-origin:50% 0;">Р</div>
<div class="t c" style="left:438.5px;top:536px;transform:translateX(-50%) scaleX(1.0);transform-origin:50% 0;">Н</div>
<div class="t c" style="left:507.5px;top:536px;transform:translateX(-50%) scaleX(1.0);transform-origin:50% 0;">Н</div>
<div class="t c" style="left:574.0px;top:536px;transform:translateX(-50%) scaleX(1.0);transform-origin:50% 0;">Н</div>
<div class="t c" style="left:641.0px;top:536px;transform:translateX(-50%) scaleX(1.0);transform-origin:50% 0;">Н</div>
<div class="t c" style="left:710.5px;top:536px;transform:translateX(-50%) scaleX(1.0);transform-origin:50% 0;">Н</div>
<div class="t c" style="left:782.0px;top:536px;transform:translateX(-50%) scaleX(1.0);transform-origin:50% 0;">Н</div>
<div class="t c" style="left:852.0px;top:536px;transform:translateX(-50%) scaleX(1.0);transform-origin:50% 0;">Н</div>
<div class="d" style="left:907px;top:554px;"></div>
<div class="t c" style="left:985.5px;top:536px;transform:translateX(-50%) scaleX(1.0);transform-origin:50% 0;">Н</div>
<div class="d" style="left:1039px;top:554px;"></div>
<div class="d" style="left:1106px;top:554px;"></div>
<div class="d" style="left:1175px;top:554px;"></div>
<div class="t c" style="left:1264.5px;top:536px;transform:translateX(-50%) scaleX(1.0);transform-origin:50% 0;">Н</div>
<div class="d" style="left:1323px;top:554px;"></div>
<div class="d" style="left:1392px;top:554px;"></div>
<div class="d" style="left:1461px;top:554px;"></div>
<div class="t c" style="left:154.5px;top:582px;transform:translateX(-50%) scaleX(0.92);transform-origin:50% 0;">Р</div>
<div class="t c" style="left:222.5px;top:582px;transform:translateX(-50%) scaleX(0.92);transform-origin:50% 0;">Р</div>
<div class="t c" style="left:292.5px;top:582px;transform:translateX(-50%) scaleX(0.92);transform-origin:50% 0;">Р</div>
<div class="t c" style="left:365.5px;top:582px;transform:translateX(-50%) scaleX(0.92);transform-origin:50% 0;">Р</div>
<div class="t c" style="left:438.5px;top:582px;transform:translateX(-50%) scaleX(1.0);transform-origin:50% 0;">Н</div>
<div class="t c" style="left:507.5px;top:582px;transform:translateX(-50%) scaleX(1.0);transform-origin:50% 0;">Н</div>
<div class="t c" style="left:574.0px;top:582px;transform:translateX(-50%) scaleX(1.0);transform-origin:50% 0;">Н</div>
<div class="t c" style="left:641.0px;top:582px;transform:translateX(-50%) scaleX(1.0);transform-origin:50% 0;">Н</div>
<div class="t c" style="left:710.5px;top:582px;transform:translateX(-50%) scaleX(1.0);transform-origin:50% 0;">Н</div>
<div class="t c" style="left:782.0px;top:582px;transform:translateX(-50%) scaleX(1.0);transform-origin:50% 0;">Н</div>
<div class="t c" style="left:852.0px;top:582px;transform:translateX(-50%) scaleX(1.0);transform-origin:50% 0;">Н</div>
<div class="t c" style="left:920.0px;top:582px;transform:translateX(-50%) scaleX(1.0);transform-origin:50% 0;">Н</div>
<div class="t c" style="left:985.5px;top:582px;transform:translateX(-50%) scaleX(1.0);transform-origin:50% 0;">Н</div>
<div class="t c" style="left:1052.5px;top:582px;transform:translateX(-50%) scaleX(1.0);transform-origin:50% 0;">Н</div>
<div class="t c" style="left:1119.0px;top:582px;transform:translateX(-50%) scaleX(1.0);transform-origin:50% 0;">Н</div>
<div class="t c" style="left:1188.0px;top:582px;transform:translateX(-50%) scaleX(1.0);transform-origin:50% 0;">Н</div>
<div class="t c" style="left:1264.5px;top:582px;transform:translateX(-50%) scaleX(1.0);transform-origin:50% 0;">Н</div>
<div class="t c" style="left:1336.5px;top:582px;transform:translateX(-50%) scaleX(1.0);transform-origin:50% 0;">Н</div>
<div class="t c" style="left:1405.0px;top:582px;transform:translateX(-50%) scaleX(1.0);transform-origin:50% 0;">Н</div>
<div class="t c" style="left:1474.5px;top:582px;transform:translateX(-50%) scaleX(1.0);transform-origin:50% 0;">Н</div>
<div class="t c" style="left:154.5px;top:628px;transform:translateX(-50%) scaleX(0.92);transform-origin:50% 0;">Р</div>
<div class="t c" style="left:222.5px;top:628px;transform:translateX(-50%) scaleX(0.92);transform-origin:50% 0;">Р</div>
<div class="t c" style="left:292.5px;top:628px;transform:translateX(-50%) scaleX(0.92);transform-origin:50% 0;">Р</div>
<div class="t c" style="left:365.5px;top:628px;transform:translateX(-50%) scaleX(0.92);transform-origin:50% 0;">Р</div>
<div class="t c" style="left:437.5px;top:628px;transform:translateX(-50%) scaleX(0.92);transform-origin:50% 0;">Р</div>
<div class="t c" style="left:506.5px;top:628px;transform:translateX(-50%) scaleX(0.92);transform-origin:50% 0;">Р</div>
<div class="t c" style="left:573.0px;top:628px;transform:translateX(-50%) scaleX(0.92);transform-origin:50% 0;">Р</div>
<div class="t c" style="left:640.0px;top:628px;transform:translateX(-50%) scaleX(0.92);transform-origin:50% 0;">Р</div>
<div class="t c" style="left:709.5px;top:628px;transform:translateX(-50%) scaleX(0.92);transform-origin:50% 0;">Р</div>
<div class="t c" style="left:781.0px;top:628px;transform:translateX(-50%) scaleX(0.92);transform-origin:50% 0;">Р</div>
<div class="t c" style="left:851.0px;top:628px;transform:translateX(-50%) scaleX(0.92);transform-origin:50% 0;">Р</div>
<div class="t c" style="left:919.0px;top:628px;transform:translateX(-50%) scaleX(0.92);transform-origin:50% 0;">Р</div>
<div class="t c" style="left:984.5px;top:628px;transform:translateX(-50%) scaleX(0.92);transform-origin:50% 0;">Р</div>
<div class="t c" style="left:1051.5px;top:628px;transform:translateX(-50%) scaleX(0.92);transform-origin:50% 0;">Р</div>
<div class="t c" style="left:1118.0px;top:628px;transform:translateX(-50%) scaleX(0.92);transform-origin:50% 0;">Р</div>
<div class="t c" style="left:1187.0px;top:628px;transform:translateX(-50%) scaleX(0.92);transform-origin:50% 0;">Р</div>
<div class="t c" style="left:1263.5px;top:628px;transform:translateX(-50%) scaleX(0.92);transform-origin:50% 0;">Р</div>
<div class="t c" style="left:1335.5px;top:628px;transform:translateX(-50%) scaleX(0.92);transform-origin:50% 0;">Р</div>
<div class="t c" style="left:1404.0px;top:628px;transform:translateX(-50%) scaleX(0.92);transform-origin:50% 0;">Р</div>
<div class="t c" style="left:1473.5px;top:628px;transform:translateX(-50%) scaleX(0.92);transform-origin:50% 0;">Р</div>
</body></html>
